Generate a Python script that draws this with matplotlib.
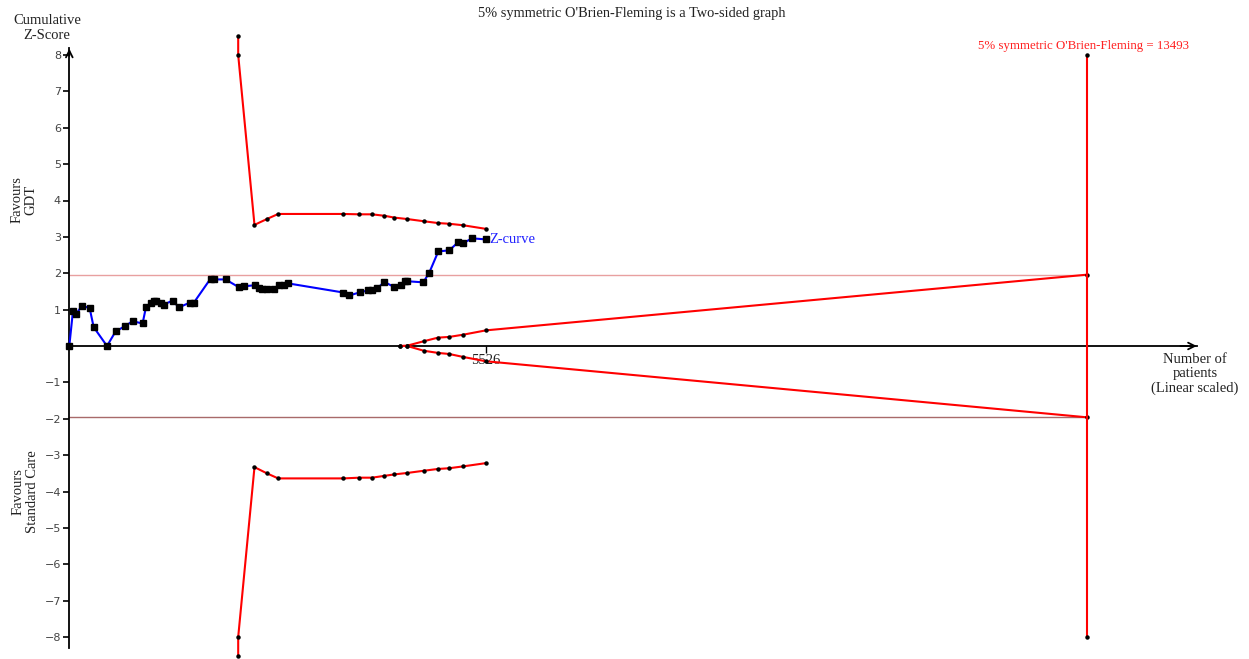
import matplotlib
matplotlib.use("Agg")
import matplotlib.pyplot as plt

# ---------------- data ----------------
z_patients = [0, 49, 93, 168, 270, 323, 500, 614, 733, 839, 972, 1016, 1087, 1122, 1153,
              1210, 1255, 1370, 1454, 1595, 1648, 1873, 1913, 2072, 2245, 2311, 2457, 2518,
              2562, 2620, 2717, 2779, 2853, 2906, 3635, 3715, 3861, 3967, 4020, 4086, 4179,
              4311, 4404, 4448, 4483, 4695, 4775, 4894, 5040, 5155, 5221, 5345, 5526]
z_scores = [0, 0.97, 0.88, 1.11, 1.04, 0.52, 0.0, 0.40, 0.54, 0.68, 0.62, 1.06, 1.17, 1.25,
            1.23, 1.17, 1.14, 1.25, 1.06, 1.19, 1.18, 1.85, 1.83, 1.83, 1.62, 1.64, 1.67,
            1.59, 1.58, 1.57, 1.57, 1.67, 1.67, 1.72, 1.47, 1.39, 1.48, 1.53, 1.53, 1.59,
            1.76, 1.62, 1.67, 1.78, 1.78, 1.75, 2.02, 2.60, 2.63, 2.85, 2.83, 2.96, 2.93]

bound_patients = [2240, 2240, 2456, 2620, 2770, 3635, 3847, 4015, 4179, 4311, 4483, 4700,
                  4890, 5040, 5221, 5526]
upper_bound = [8.52, 8.0, 3.33, 3.49, 3.63, 3.63, 3.62, 3.62, 3.58, 3.53, 3.49, 3.43, 3.38,
               3.36, 3.32, 3.22]
lower_bound = [-8.52, -8.0, -3.33, -3.50, -3.64, -3.64, -3.62, -3.62, -3.57, -3.53, -3.49,
               -3.43, -3.38, -3.36, -3.31, -3.22]

inner_patients = [4386, 4483, 4700, 4890, 5040, 5221, 5526, 13493]
inner_upper = [0, 0.01, 0.13, 0.23, 0.25, 0.31, 0.43, 1.96]
inner_lower = [0, 0, -0.13, -0.19, -0.22, -0.30, -0.42, -1.96]

required_size = 13493
ris_z = [-8, 8]
conv_z = 1.96
current_n = 5526
y_ticks = [-8, -7, -6, -5, -4, -3, -2, -1, 1, 2, 3, 4, 5, 6, 7, 8]

# ---------------- figure ----------------
W, H = 1249, 659
fig = plt.figure(figsize=(W / 100, H / 100), dpi=100)
ax = fig.add_axes([0, 0, 1, 1])
ax.set_facecolor("white")

px_per_n = 0.0754
x0 = 69.3
px_per_z = 36.375
y0 = 346
ax.set_xlim(-x0 / px_per_n, (W - x0) / px_per_n)
ax.set_ylim(-(H - y0) / px_per_z, y0 / px_per_z)

serif = ["Liberation Serif", "DejaVu Serif"]

# conventional boundaries
ax.plot([0, required_size], [conv_z, conv_z], color="#e8a0a0", lw=1, zorder=2)
ax.plot([0, required_size], [-conv_z, -conv_z], color="#a86a6a", lw=1, zorder=2)

# monitoring boundaries
bkw = dict(color="#ff0000", lw=1.5, marker="o", ms=2.2, mfc="black", mec="black", zorder=4)
ax.plot(bound_patients, upper_bound, **bkw)
ax.plot(bound_patients, lower_bound, **bkw)
ax.plot(inner_patients, inner_upper, **bkw)
ax.plot(inner_patients, inner_lower, **bkw)
ax.plot([required_size, required_size], ris_z, **bkw)

# z-curve
ax.plot(z_patients, z_scores, color="#0000ff", lw=1.5, marker="s", ms=4.5,
        mfc="black", mec="black", zorder=5)
ax.text(z_patients[-1] + 40, z_scores[-1], "Z-curve", color="#2222ff", fontsize=10.5,
        family=serif, va="center", ha="left", zorder=6)

# axes
for s in ["top", "right"]:
    ax.spines[s].set_visible(False)
ax.spines["left"].set_position(("data", 0))
ax.spines["bottom"].set_position(("data", 0))
ax.spines["left"].set_bounds(-8.3, 8.2)
ax.spines["bottom"].set_bounds(0, 14950)
ax.spines["left"].set_linewidth(1.3)
ax.spines["bottom"].set_linewidth(1.3)
ax.annotate("", xy=(0, 8.25), xytext=(0, 7.9),
            arrowprops=dict(arrowstyle="->", lw=1.3, color="black", mutation_scale=12))
ax.annotate("", xy=(14990, 0), xytext=(14700, 0),
            arrowprops=dict(arrowstyle="->", lw=1.3, color="black", mutation_scale=12))

ax.set_yticks(y_ticks)
ax.set_yticklabels([f"\u2212{abs(t)}" if t < 0 else str(t) for t in y_ticks])
ax.tick_params(axis="y", direction="out", length=4, width=1.2, labelsize=8,
               labelcolor="#444444", pad=2)
ax.set_xticks([current_n])
ax.set_xticklabels([str(current_n)], family=serif, fontsize=10.5)
ax.tick_params(axis="x", direction="out", length=5, width=1, labelcolor="#222222", pad=1)
for lab in ax.get_xticklabels():
    lab.set_zorder(1)

# texts
def ftext(px, py, s, **kw):
    fig.text(px / W, 1 - py / H, s, **kw)

ftext(632, 13, "5% symmetric O'Brien-Fleming is a Two-sided graph", ha="center",
      va="center", fontsize=10.4, family=serif, color="#222222")
ftext(1084, 46, "5% symmetric O'Brien-Fleming = 13493", ha="center", va="center",
      fontsize=9.3, family=serif, color="#ff2020")
ftext(47, 28, "Cumulative\nZ-Score", ha="center", va="center", fontsize=10.5,
      family=serif, color="#222222", linespacing=1.12)
ftext(24, 200, "Favours\nGDT", ha="center", va="center", fontsize=10.5, rotation=90,
      family=serif, color="#222222", linespacing=1.12)
ftext(25, 492, "Favours\nStandard Care", ha="center", va="center", fontsize=10.5,
      rotation=90, family=serif, color="#222222", linespacing=1.12)
ftext(1195, 374, "Number of\npatients\n(Linear scaled)", ha="center", va="center",
      fontsize=10.5, family=serif, color="#222222", linespacing=1.12)

fig.savefig("out.png", dpi=100, facecolor="white")
